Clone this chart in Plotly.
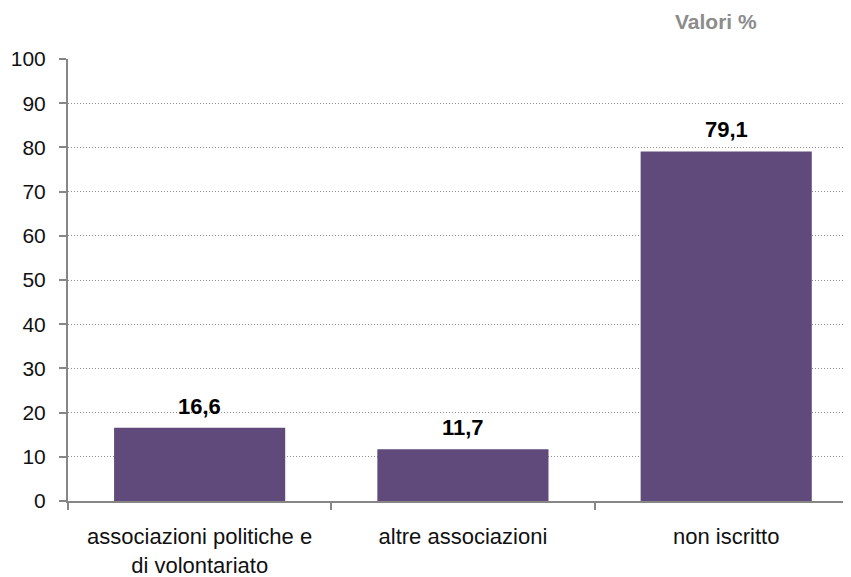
import plotly.graph_objects as go

categories = ["associazioni politiche e<br>di volontariato", "altre associazioni", "non iscritto"]
values = [16.6, 11.7, 79.1]
labels = ["16,6", "11,7", "79,1"]
y_ticks = [0, 10, 20, 30, 40, 50, 60, 70, 80, 90, 100]

fig = go.Figure()
fig.add_trace(go.Bar(
    x=categories, y=values, width=0.65,
    marker=dict(color="#604A7B", line=dict(width=0)),
    hoverinfo="skip",
))

# value labels above bars
for c, v, t in zip(categories, values, labels):
    fig.add_annotation(x=c, y=v, text="<b>" + t + "</b>", showarrow=False,
                       yanchor="bottom", yshift=7,
                       font=dict(size=22, color="#000000", family="Liberation Sans, Arial"))

fig.add_annotation(text="<b>Valori %</b>", xref="paper", yref="paper",
                   x=0.8276, xanchor="center", y=1.0, yanchor="top", yshift=51,
                   showarrow=False,
                   font=dict(size=21, color="#8C8C8C", family="Liberation Sans, Arial"))

fig.update_layout(
    width=851, height=577,
    margin=dict(l=60, r=8, t=51, b=84),
    plot_bgcolor="white", paper_bgcolor="white",
    showlegend=False,
    font=dict(family="Liberation Sans, Arial", size=21, color="#111111"),
    xaxis=dict(
        range=[-0.5, 2.474], tickson="boundaries", ticks="outside", ticklen=7,
        tickcolor="#868686", tickwidth=2, showline=True, linecolor="#868686", linewidth=2,
        showgrid=False, fixedrange=True, ticklabelstandoff=15, automargin=False,
        tickfont=dict(size=22),
    ),
    yaxis=dict(
        range=[0, 100], tickvals=y_ticks, ticks="outside", ticklen=7,
        tickcolor="#868686", tickwidth=2, showline=True, linecolor="#868686", linewidth=2,
        showgrid=True, gridcolor="#8C8C8C", griddash="1px,2px", gridwidth=1,
        zeroline=False, fixedrange=True, ticklabelstandoff=9, automargin=False,
        tickfont=dict(size=21),
    ),
)

fig.write_html("out.html")
